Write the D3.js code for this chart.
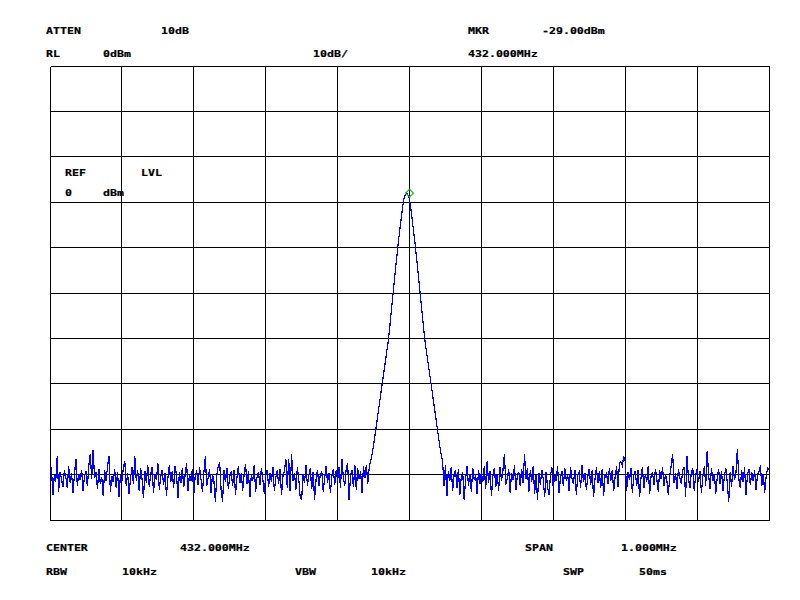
<!DOCTYPE html>
<html>
<head>
<meta charset="utf-8">
<script src="https://cdn.jsdelivr.net/npm/d3@7"></script>
<style>
  html, body { margin: 0; padding: 0; background: #fff; }
  svg { display: block; }
  .lbl { font-family: "DejaVu Sans Mono", monospace; font-weight: bold; font-size: 11.6px; fill: #000; stroke: #000; stroke-width: 0.25px; }
</style>
</head>
<body>
<svg id="chart" width="800" height="600"></svg>
<script>
// ---------- DATA ----------
const centerMHz = 432.0;
const spanMHz = 1.0;
const refLevelDbm = 0;
const dbPerDiv = 10;
const divisions = 10;

// Noise floor left of the carrier (points 0..223), dBm
const noiseLeft = [
  -88.5, -88.5, -94.5, -90.2, -91.5, -86.0, -93.8, -89.5, -91.0, -92.8,
  -89.0, -90.5, -93.0, -88.2, -91.8, -89.6, -94.0, -90.1, -86.5, -92.5,
  -89.8, -91.2, -88.9, -93.5, -90.4, -89.2, -92.6, -88.0, -85.5, -91.0,
  -84.5, -90.8, -89.5, -93.2, -88.7, -92.0, -90.6, -94.8, -89.0, -91.4,
  -88.2, -86.0, -93.9, -90.3, -91.7, -88.8, -92.9, -89.4, -95.0, -90.0,
  -91.5, -88.5, -87.0, -92.4, -89.7, -94.2, -90.8, -88.4, -92.1, -86.0,
  -91.3, -89.1, -93.6, -88.6, -90.9, -95.2, -89.3, -91.8, -87.8, -92.7,
  -90.1, -88.3, -94.1, -89.9, -91.1, -87.5, -93.3, -90.5, -88.9, -92.3,
  -89.6, -94.6, -90.7, -87.9, -91.6, -89.2, -93.0, -88.1, -90.2, -95.1,
  -89.4, -91.9, -88.6, -92.8, -90.0, -87.4, -93.7, -89.8, -91.4, -88.7,
  -94.3, -90.3, -89.1, -92.2, -88.4, -91.0, -93.9, -89.5, -86.0, -92.5,
  -90.6, -88.8, -94.0, -89.9, -91.5, -96.0, -90.2, -88.1, -87.3, -93.4,
  -96.0, -89.0, -91.7, -88.5, -93.1, -90.4, -89.3, -92.6, -88.9, -94.4,
  -90.7, -88.2, -91.9, -89.6, -93.5, -90.0, -87.7, -92.0, -89.2, -95.0,
  -89.9, -91.3, -88.0, -93.8, -90.5, -89.4, -92.3, -88.6, -91.1, -94.2,
  -90.2, -88.9, -92.7, -89.7, -91.6, -88.3, -93.6, -90.8, -89.0, -92.1,
  -88.7, -94.5, -90.3, -89.2, -86.5, -92.9, -86.5, -93.7, -85.5, -91.5,
  -89.6, -93.3, -88.4, -91.0, -95.0, -95.5, -89.8, -91.9, -88.0, -92.4,
  -90.1, -88.6, -93.2, -89.4, -95.5, -91.2, -88.9, -92.6, -90.0, -89.3,
  -93.8, -90.7, -88.1, -91.8, -89.7, -94.1, -90.4, -88.8, -92.2, -89.0,
  -91.4, -88.3, -93.0, -86.5, -90.6, -92.5, -88.7, -87.5, -95.5, -90.2,
  -89.1, -92.8, -88.0, -93.4, -88.6, -91.0, -89.2, -94.0, -88.2, -90.8,
  -87.8, -92.0, -88.4, -87.0
];

// Carrier response (points 224..272), dBm
const carrier = [
  -85.5, -83.6, -81.3, -79.1, -76.8, -74.5, -72.3, -70.0, -67.8, -65.6,
  -63.3, -61.1, -58.4, -55.2, -51.9, -48.8, -45.6, -42.5, -39.5, -36.8,
  -34.2, -31.6, -29.3, -28.4, -28.0, -28.4, -29.3, -31.6, -34.2, -36.8,
  -39.5, -42.5, -45.6, -48.8, -51.9, -55.2, -58.4, -61.1, -63.3, -65.6,
  -67.8, -70.0, -72.3, -74.5, -76.8, -79.1, -81.3, -83.6, -85.5
];

// Noise floor right of the carrier (points 273..500), dBm
const noiseRight = [
  -87.0, -92.5, -88.0, -94.8, -89.2, -91.5, -88.4,
  -93.6, -90.1, -89.0, -92.9, -88.7, -94.5, -90.5, -89.4, -95.5, -91.0,
  -88.2, -92.4, -89.9, -93.8, -88.6, -91.2, -90.0, -94.3, -88.9, -92.0,
  -89.5, -91.7, -88.1, -93.2, -87.0, -91.9, -89.3, -94.6, -90.4, -88.5,
  -92.7, -89.8, -93.5, -88.3, -91.4, -89.0, -85.5, -92.2, -90.7, -88.8,
  -94.0, -89.6, -91.1, -88.0, -93.3, -90.2, -89.4, -92.5, -88.7, -91.8,
  -85.5, -90.9, -88.6, -93.9, -89.1, -91.6, -88.2, -94.2, -90.0, -95.5,
  -89.7, -92.3, -88.9, -91.0, -95.0, -89.4, -92.8, -94.5, -90.3, -88.4,
  -93.1, -89.8, -91.5, -88.1, -94.1, -90.6, -89.2, -92.6, -88.6, -91.3,
  -89.9, -93.7, -88.3, -90.8, -92.0, -88.9, -94.4, -90.1, -89.5, -92.9,
  -88.0, -91.7, -89.6, -93.4, -90.4, -88.7, -92.3, -89.1, -95.0, -90.9,
  -88.4, -91.9, -89.3, -93.0, -88.8, -94.7, -90.2, -89.7, -92.1, -88.5,
  -91.4, -89.0, -93.6, -90.5, -88.2, -92.7, -87.5, -87.2, -88.0, -86.0,
  -87.0, -93.5, -89.4, -91.2, -88.6, -94.1, -90.0, -89.2, -92.5, -88.9,
  -95.0, -90.7, -88.3, -93.0, -89.8, -91.6, -88.1, -94.3, -90.4, -89.5,
  -92.2, -88.7, -91.0, -93.8, -89.1, -90.9, -88.4, -92.6, -89.9, -91.5,
  -94.5, -90.3, -88.0, -85.5, -91.8, -89.6, -93.2, -88.8, -90.6, -92.1,
  -89.0, -88.3, -95.0, -86.0, -90.8, -92.9, -89.4, -88.6, -93.5, -90.1,
  -88.9, -91.7, -89.3, -94.0, -90.5, -88.2, -92.4, -84.8, -90.0, -93.1,
  -88.5, -91.3, -89.8, -94.2, -90.6, -88.8, -92.0, -89.2, -93.6, -90.3,
  -88.6, -91.9, -96.0, -89.5, -92.7, -88.1, -91.1, -89.7, -84.3, -90.9,
  -93.0, -89.0, -91.6, -88.4, -94.5, -90.2, -88.7, -92.3, -89.5, -91.4,
  -88.9, -93.3, -90.0, -89.3, -88.0, -92.6, -89.8, -94.0, -90.4, -88.6,
  -89.0
];

const markerFreqMHz = 432.0;
const markerPlotLevel = -28; // where the marker symbol sits on screen

const topLabels    = ["ATTEN", "10dB", "MKR", "-29.00dBm", "RL", "0dBm", "10dB/", "432.000MHz"];
const bottomLabels = ["CENTER", "432.000MHz", "SPAN", "1.000MHz", "RBW", "10kHz", "VBW", "10kHz", "SWP", "50ms"];
const insetLabels  = ["REF", "LVL", "0", "dBm"];

// ---------- LAYOUT ----------
const topPos    = [[46,34],[161,34],[468,34],[542,34],[46,57],[103,57],[313,57],[468,57]];
const bottomPos = [[46,551],[180,551],[525,551],[621,551],[46,575],[122,575],[295,575],[371,575],[563,575],[639,575]];
const insetPos  = [[65,176],[141,176],[65,196],[103,196]];

const plot = { left: 50, right: 769, top: 66, bottom: 520 };

const svg = d3.select("#chart");
svg.append("rect").attr("width", 800).attr("height", 600).attr("fill", "#fff");

const trace = noiseLeft.concat(carrier, noiseRight);
const startMHz = centerMHz - spanMHz / 2;
const stopMHz = centerMHz + spanMHz / 2;
const x = d3.scaleLinear().domain([startMHz, stopMHz]).range([plot.left, plot.right]);
const y = d3.scaleLinear()
  .domain([refLevelDbm - dbPerDiv * divisions, refLevelDbm])
  .range([plot.bottom, plot.top]);
const freqOf = i => startMHz + spanMHz * i / (trace.length - 1);
const px = v => Math.floor(v) + 0.5;

// grid
const xTicks = d3.range(divisions + 1).map(k => startMHz + spanMHz * k / divisions);
const yTicks = d3.range(divisions + 1).map(k => refLevelDbm - dbPerDiv * k);
const grid = svg.append("g").attr("stroke", "#000").attr("stroke-width", 1).attr("shape-rendering", "crispEdges");
grid.selectAll("line.v").data(xTicks).join("line")
  .attr("class", "v")
  .attr("x1", d => px(x(d))).attr("x2", d => px(x(d)))
  .attr("y1", px(plot.top)).attr("y2", px(plot.bottom) + 0.5);
grid.selectAll("line.h").data(yTicks).join("line")
  .attr("class", "h")
  .attr("y1", d => px(y(d))).attr("y2", d => px(y(d)))
  .attr("x1", px(plot.left)).attr("x2", px(plot.right) + 0.5);

// trace
const line = d3.line()
  .x((d, i) => x(freqOf(i)))
  .y(d => y(d));
svg.append("path")
  .datum(trace)
  .attr("d", line)
  .attr("fill", "none")
  .attr("stroke", "#0000ff")
  .attr("stroke-width", 1.2)
  .attr("shape-rendering", "crispEdges");

// marker
svg.append("path")
  .attr("d", d3.symbol(d3.symbolSquare, 30)())
  .attr("transform", `translate(${x(markerFreqMHz)},${y(markerPlotLevel)}) rotate(45)`)
  .attr("fill", "none")
  .attr("stroke", "#00b000")
  .attr("stroke-width", 1);

// labels
function drawLabels(texts, pos) {
  svg.append("g").selectAll("text").data(texts).join("text")
    .attr("class", "lbl")
    .attr("transform", (d, i) => `translate(${pos[i][0]},${pos[i][1]}) scale(1,0.82)`)
    .text(d => d);
}
drawLabels(topLabels, topPos);
drawLabels(bottomLabels, bottomPos);
drawLabels(insetLabels, insetPos);
</script>
</body>
</html>
